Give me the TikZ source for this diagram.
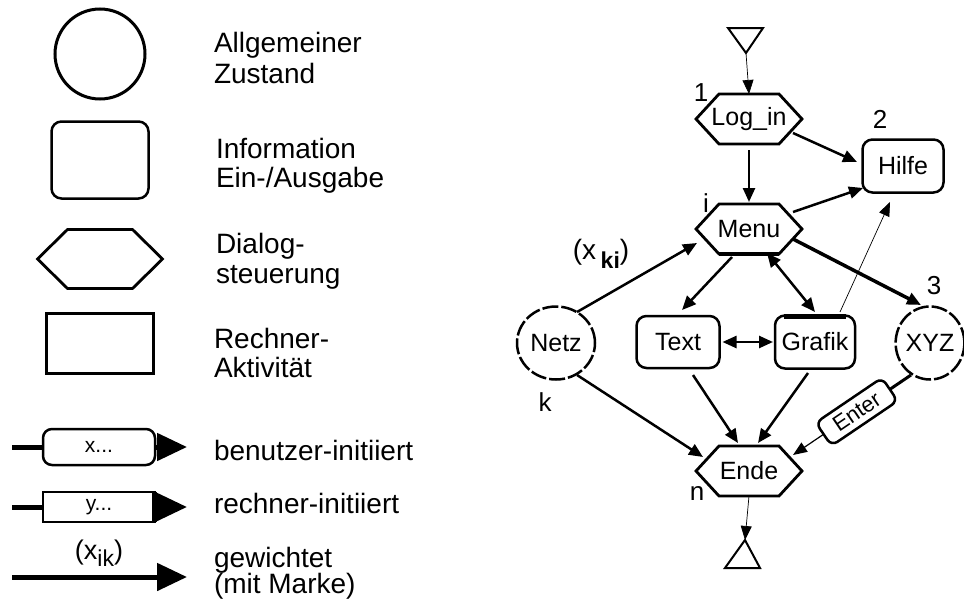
\documentclass[tikz,border=0pt]{standalone}
\usepackage{fontspec}
\setmainfont{Liberation Sans}
\usetikzlibrary{arrows.meta,calc,shapes.geometric}
\newcommand\hexof[2]{\draw[hexline] ([xshift=#2pt]#1.north west) -- ([xshift=-#2pt]#1.north east) -- (#1.east) -- ([xshift=-#2pt]#1.south east) -- ([xshift=#2pt]#1.south west) -- (#1.west) -- cycle;}
\begin{document}
\begin{tikzpicture}[x=1pt,y=-1pt,
  every node/.style={inner sep=0pt, outer sep=0pt},
  legtext/.style={anchor=base west, font=\fontsize{28}{31}\selectfont},
  dtext/.style={font=\fontsize{25}{28}\selectfont},
  lab/.style={font=\fontsize{26}{28}\selectfont},
  statecirc/.style={circle, draw, line width=3pt, minimum size=90pt},
  dstate/.style={ellipse, draw, line width=2.5pt, dash pattern=on 16pt off 3pt},
  infobox/.style={rectangle, rounded corners=10pt, draw, line width=2.5pt},
  hexnode/.style={rectangle, minimum width=106pt, minimum height=50pt},
  hexline/.style={line width=2.8pt, line join=miter},
  rechbox/.style={rectangle, draw, line width=3pt},
  legline/.style={line width=5pt},
  bighead/.style={-{Triangle[length=30pt,width=27pt]}},
  conn/.style={line width=2.5pt, -{Triangle[length=14pt,width=12pt]}},
  dconn/.style={line width=2.5pt, {Triangle[length=14pt,width=12pt]}-{Triangle[length=14pt,width=12pt]}},
  thinconn/.style={line width=0.7pt, -{Triangle[length=14pt,width=11pt]}},
  triline/.style={line width=2pt, line join=miter},
  enterbox/.style={rectangle, rounded corners=7pt, draw, line width=2.5pt, fill=white,
    minimum width=80pt, minimum height=28pt, font=\fontsize{22}{22}\selectfont}
]
\useasboundingbox (0,0) rectangle (964,605);

% ---------------- legend ----------------
\node[statecirc] (lcirc) at (100,54) {};
\node[legtext] (t1a) at (214,52) {Allgemeiner};
\node[legtext] (t1b) at (214,83) {Zustand};

\node[infobox, minimum width=97pt, minimum height=77pt] (linfo) at (100,160) {};
\node[legtext] (t2a) at (216,158) {Information};
\node[legtext] (t2b) at (216,187) {Ein-/Ausgabe};

\node[rectangle, minimum width=125pt, minimum height=59pt] (lhex) at (100,259) {};
\hexof{lhex}{30}
\node[legtext] (t3a) at (216,253) {Dialog-};
\node[legtext] (t3b) at (216,283) {steuerung};

\node[rechbox, minimum width=107pt, minimum height=60pt] (lrech) at (100,343) {};
\node[legtext] (t4a) at (214,348) {Rechner-};
\node[legtext] (t4b) at (214,377) {Aktivität};

% benutzer-initiiert
\coordinate (a1s) at (12,447);
\coordinate (a1e) at (187,447);
\node[infobox, rounded corners=9pt, minimum width=112pt, minimum height=36pt,
      font=\fontsize{21}{21}\selectfont] (a1b) at (99,447) {x...};
\draw[legline] (a1s) -- (a1b.west);
\draw[legline, bighead] (a1b.east) -- (a1e);
\node[legtext] (t5) at (214,460) {benutzer-initiiert};

% rechner-initiiert
\coordinate (a2s) at (12,507);
\coordinate (a2e) at (187,507);
\node[rechbox, line width=2.5pt, minimum width=112pt, minimum height=30pt,
      font=\fontsize{21}{21}\selectfont] (a2b) at (99,507) {y...};
\draw[line width=5pt] ([xshift=-1pt]a2b.north east) -- ([xshift=-1pt]a2b.south east);
\draw[legline] (a2s) -- (a2b.west);
\draw[legline, bighead] (a2b.east) -- (a2e);
\node[legtext] (t6) at (214,513) {rechner-initiiert};

% gewichtet
\coordinate (a3s) at (12,577);
\coordinate (a3e) at (187,577);
\draw[legline, bighead] (a3s) -- (a3e);
\node[font=\fontsize{27}{27}\selectfont] (a3l) at (99,553)
  {(x\raisebox{-7pt}{\fontsize{23}{23}\selectfont ik})};
\node[legtext] (t7a) at (214,567) {gewichtet};
\node[legtext] (t7b) at (214,593) {(mit Marke)};

% ---------------- diagram ----------------
\coordinate (sapex) at (746,53);
\draw[triline] (728,28) -- (763,28) -- (sapex) -- cycle;

\node[hexnode, dtext] (login) at (749,119) {Log\_in};
\hexof{login}{23}
\node[lab] (l1) at (701,93) {1};

\node[infobox, minimum width=81pt, minimum height=53pt, dtext] (hilfe) at (903,166) {Hilfe};
\node[lab] (l2) at (880,119) {2};

\node[hexnode, dtext] (menu) at (749,229) {Menu};
\hexof{menu}{23}
\draw[line width=4.5pt] ([xshift=23pt]menu.south west) -- ([xshift=-23pt]menu.south east);
\node[lab] (li) at (706,203) {i};

\node[dstate, minimum width=78pt, minimum height=73pt, dtext] (netz) at (556,343) {Netz};
\node[lab] (lk) at (545,402) {k};

\node[infobox, minimum width=83pt, minimum height=52pt, dtext] (text) at (678,342) {Text};
\node[infobox, minimum width=80pt, minimum height=53pt, dtext] (grafik) at (815,342) {Grafik};
\draw[line width=5pt] ([xshift=9pt,yshift=-1pt]grafik.north west) -- ([xshift=-9pt,yshift=-1pt]grafik.north east);

\node[dstate, minimum width=66pt, minimum height=73pt, dtext] (xyz) at (930,343) {XYZ};
\node[lab] (l3) at (934,286) {3};

\node[hexnode, dtext] (ende) at (749,471) {Ende};
\hexof{ende}{23}
\node[lab] (ln) at (697,493) {n};

\coordinate (eapex) at (745,540);
\draw[triline] (eapex) -- (760,568) -- (725,568) -- cycle;

\node[font=\fontsize{28}{28}\selectfont] (xki) at (601,254)
  {(x\,\raisebox{-9pt}{\bfseries\fontsize{23}{23}\selectfont ki})};

% connectors
\draw[thinconn] (sapex) -- (login.north);
\draw[conn, shorten <=6pt] (login.south) -- ([yshift=2pt]menu.north);
\draw[conn] ($(login)+(44,14)$) -- ($(hilfe)+(-46,-4)$);
\draw[conn] ($(menu)+(44,-17)$) -- ($(hilfe)+(-40,22)$);
\draw[thinconn] ($(grafik)+(25,-30)$) -- ($(hilfe)+(-13,36)$);
\draw[conn] ($(netz)+(21,-31)$) -- ($(menu)+(-52,14)$);
\draw[conn] ($(menu)+(-17,28)$) -- ($(text)+(4,-32)$);
\draw[dconn] ($(menu)+(18,24)$) -- ($(grafik)+(0,-30)$);
\draw[conn, line width=3.5pt] ($(menu)+(44,10)$) -- ($(xyz)+(-9,-38)$);
\draw[dconn] ([xshift=3pt]text.east) -- ([xshift=-2pt]grafik.west);
\draw[conn] ($(netz)+(21,32)$) -- ($(ende)+(-46,-14)$);
\draw[conn] ($(text)+(15,33)$) -- ($(ende)+(-11,-28)$);
\draw[conn] ($(grafik)+(-7,31)$) -- ($(ende)+(9,-28)$);

\coordinate (xq) at ($(xyz)+(-19,32)$);
\coordinate (eq) at ($(ende)+(44,-16)$);
\path (xq) -- (eq) node[enterbox, pos=0.46, sloped] (enter) {Enter};
\draw[line width=3pt] (xq) -- (enter);
\draw[thinconn, line width=1.2pt] (enter) -- (eq);

\draw[thinconn] (ende.south) -- (eapex);
\end{tikzpicture}
\end{document}
